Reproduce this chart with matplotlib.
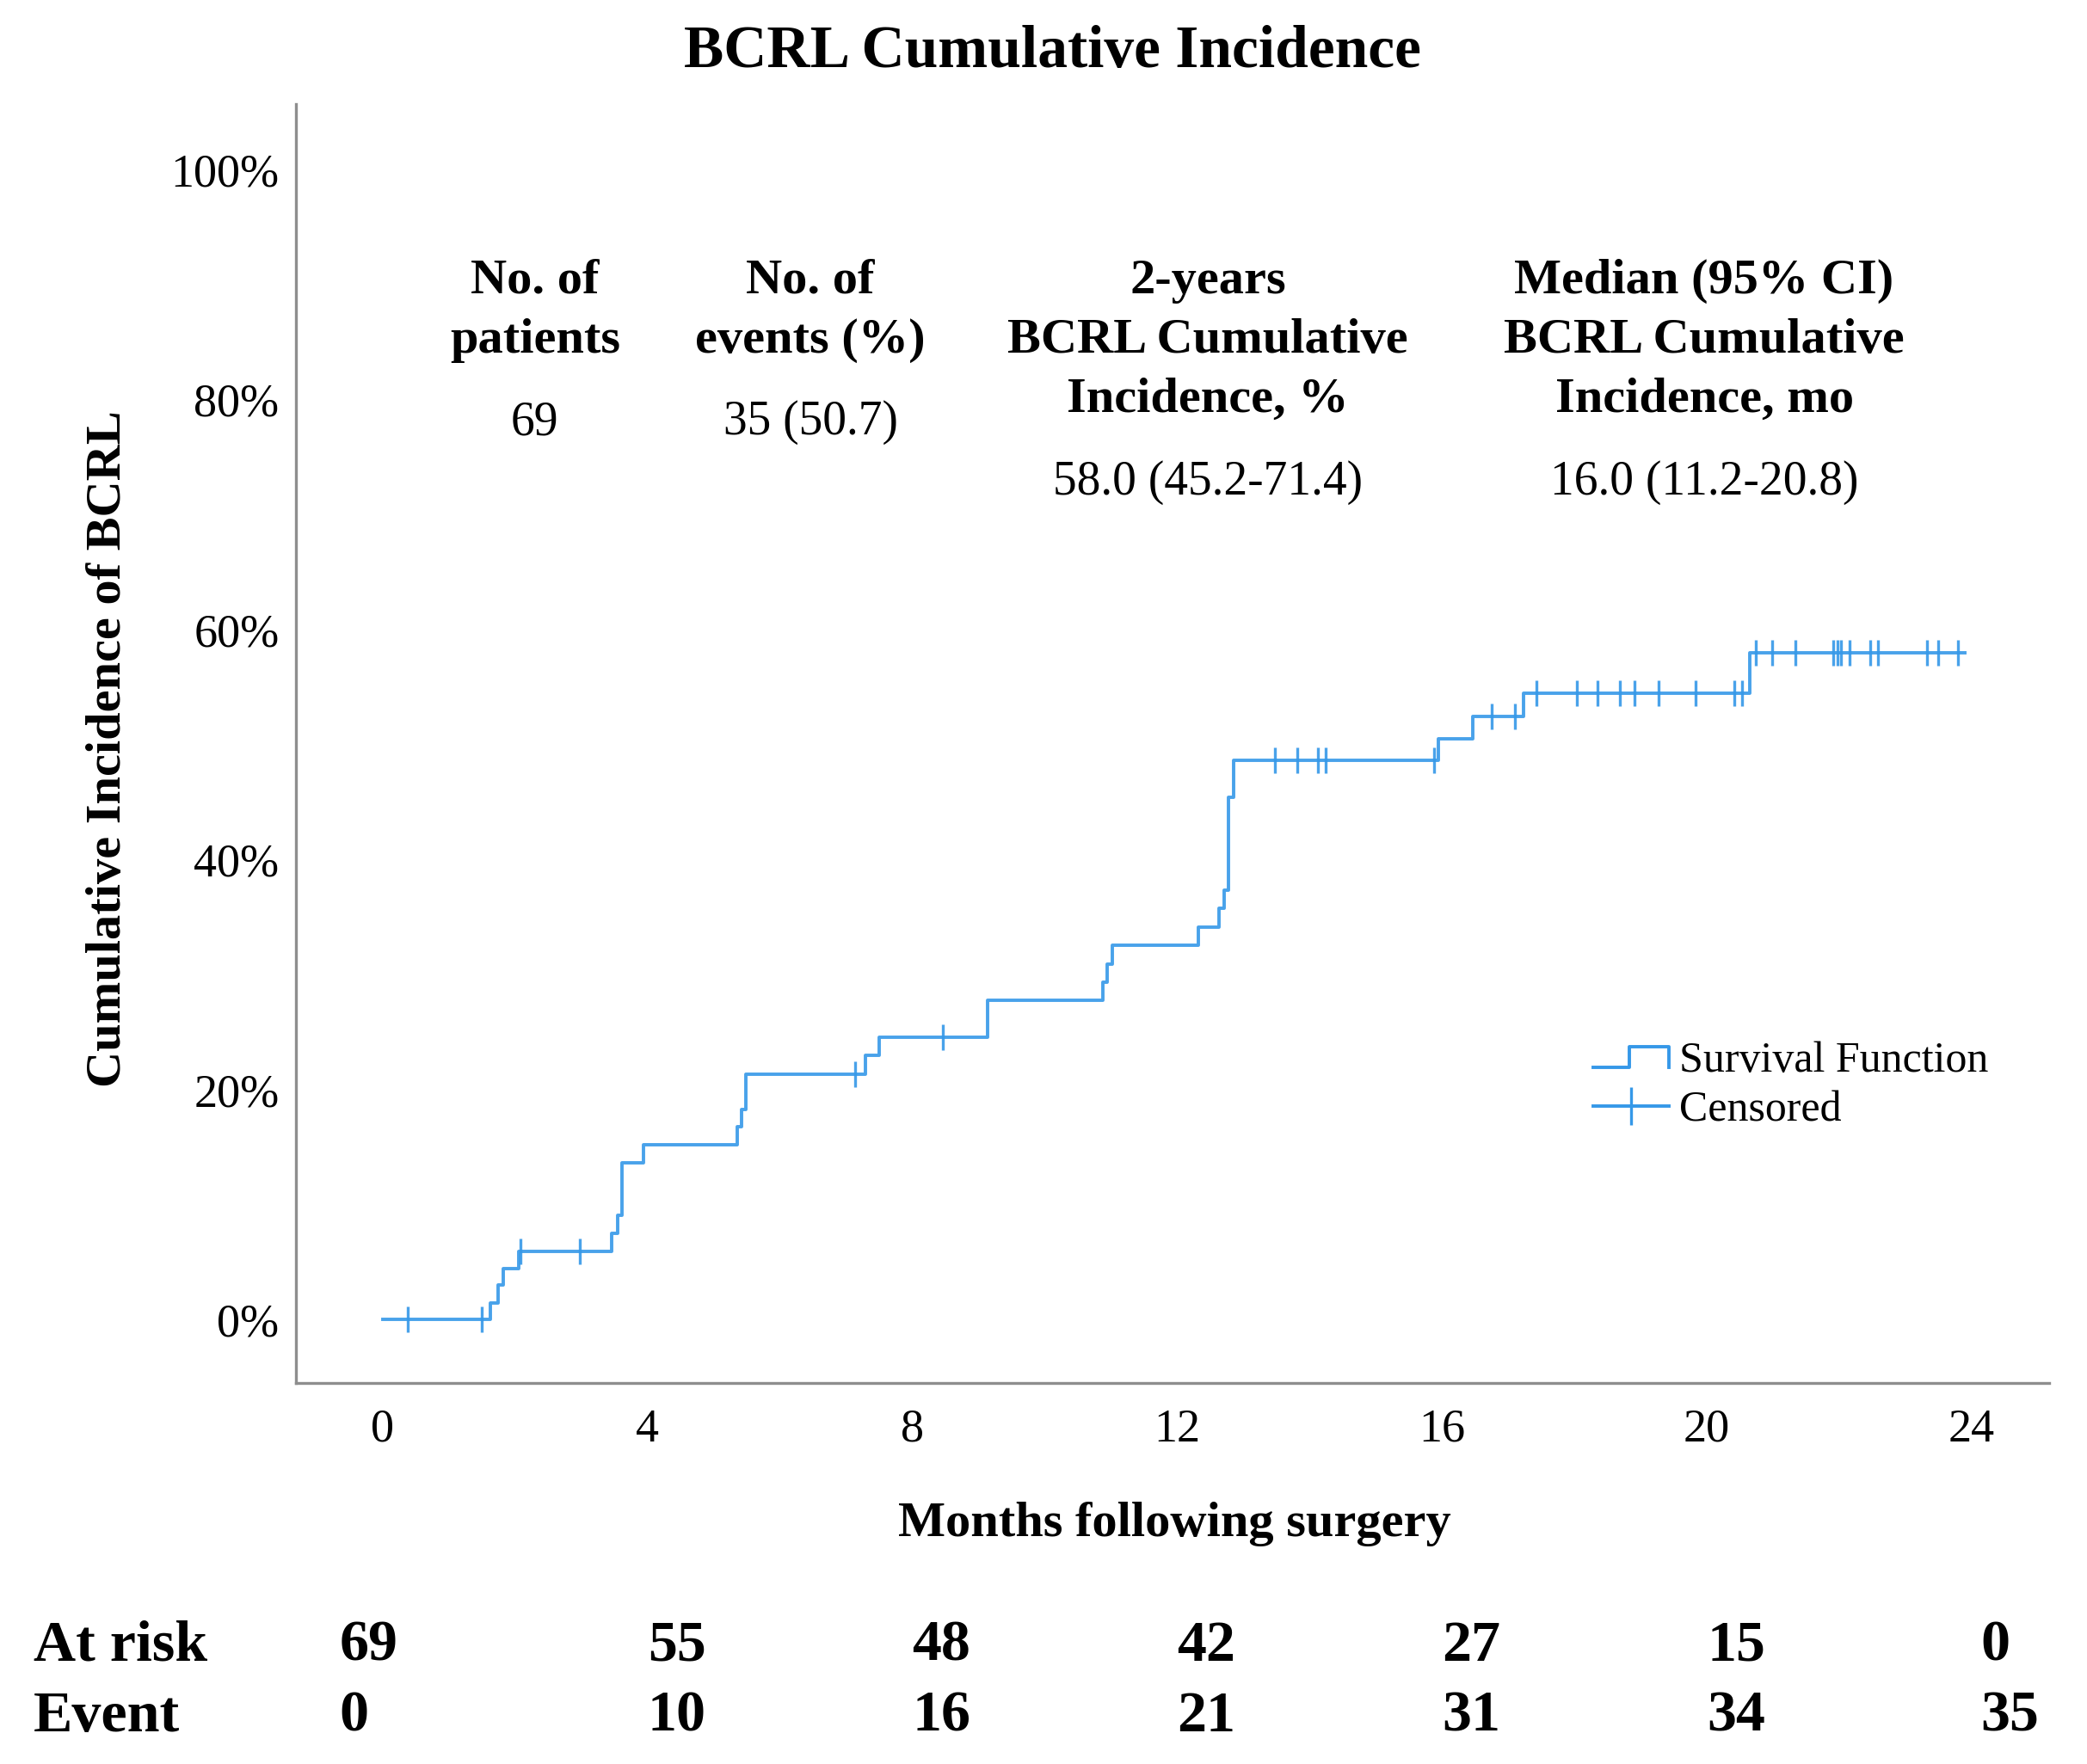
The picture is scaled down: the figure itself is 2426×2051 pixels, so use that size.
import matplotlib
matplotlib.use("Agg")

import matplotlib.pyplot as plt
import numpy as np
from matplotlib.legend_handler import HandlerBase
from matplotlib.lines import Line2D


# step curve: month of each step and the level after it (%)
STEP_MONTHS = [0.0, 1.62, 1.74, 1.82, 2.05, 3.46, 3.55, 3.62, 3.94, 5.36, 5.42, 5.48,
               7.29, 7.50, 9.13, 10.88, 10.94, 11.02, 12.32, 12.63, 12.71, 12.78, 12.85,
               15.95, 16.47, 17.23, 20.65, 23.90]
CUM_INC = [0.0, 1.49, 2.99, 4.48, 5.97, 7.51, 9.05, 13.68, 15.22, 16.76, 18.30, 21.38,
           22.96, 24.53, 27.74, 29.35, 30.95, 32.56, 34.16, 35.77, 37.38, 45.40, 48.62,
           50.52, 52.42, 54.49, 57.99, 57.99]

CENSORED = [0.38, 1.50, 2.08, 2.98, 7.13, 8.46, 13.48, 13.81, 14.13, 14.24, 15.88,
            16.75, 17.10, 17.43, 18.04, 18.35, 18.68, 18.91, 19.27, 19.83, 20.41, 20.53,
            20.74, 20.98, 21.34, 21.91, 21.97, 22.03, 22.15, 22.47, 22.58, 23.33, 23.49,
            23.79]

X_TICKS = [0, 4, 8, 12, 16, 20, 24]
Y_TICKS = [0, 20, 40, 60, 80, 100]
AT_RISK = [69, 55, 48, 42, 27, 15, 0]
EVENTS = [0, 10, 16, 21, 31, 34, 35]

HEADERS = [
    ["No. of", "patients"],
    ["No. of", "events (%)"],
    ["2-years", "BCRL Cumulative", "Incidence, %"],
    ["Median (95% CI)", "BCRL Cumulative", "Incidence, mo"],
]
VALUES = ["69", "35 (50.7)", "58.0 (45.2-71.4)", "16.0 (11.2-20.8)"]

BLUE = "#3598e8"
SPINE = "#8e8e8e"
SERIF = "Liberation Serif"


class StepHandler(HandlerBase):
    def create_artists(self, legend, orig_handle, xdescent, ydescent, width, height,
                       fontsize, trans):
        x0, y0 = -xdescent, -ydescent
        xs = [x0, x0 + 0.48 * width, x0 + 0.48 * width, x0 + width, x0 + width]
        ys = [y0 + 0.15 * height, y0 + 0.15 * height, y0 + 0.85 * height,
              y0 + 0.85 * height, y0 + 0.15 * height]
        line = Line2D(xs, ys, color=orig_handle.get_color(), lw=orig_handle.get_linewidth(),
                      transform=trans)
        return [line]


plt.rcParams["font.family"] = SERIF

fig = plt.figure(figsize=(24.26, 20.51), dpi=100)
ax = fig.add_axes([0.1418, 0.2160, 0.9819 - 0.1418, 0.941 - 0.2160])

months = np.array(STEP_MONTHS)
levels = np.array(CUM_INC)
ax.step(months, levels, where="post", color=BLUE, lw=2.8, alpha=0.9)

cens = np.array(CENSORED)
idx = np.searchsorted(months, cens, side="right") - 1
ax.plot(cens, levels[idx], ls="none", marker="|", ms=21, mew=2.4, color=BLUE, alpha=0.9)

ax.set_xlim(-1.31, 25.17)
ax.set_ylim(-5.5, 105.7)
ax.set_xticks(X_TICKS)
ax.set_yticks(Y_TICKS)
ax.set_yticklabels([f"{v}%" for v in Y_TICKS])
ax.tick_params(length=0, labelsize=39)
ax.tick_params(axis="y", pad=14)
ax.tick_params(axis="x", pad=21)

for side in ["top", "right"]:
    ax.spines[side].set_visible(False)
for side in ["left", "bottom"]:
    ax.spines[side].set_color(SPINE)
    ax.spines[side].set_linewidth(2.4)

ax.set_xlabel("Months following surgery", fontsize=42, fontweight="bold", va="center")
ax.xaxis.set_label_coords(0.5010, -0.1103)
ax.set_ylabel("Cumulative Incidence of BCRL", fontsize=42, fontweight="bold", va="center")
ax.yaxis.set_label_coords(-0.1070, 0.4956)

fig.text(0.5045, 0.9705, "BCRL Cumulative Incidence", fontsize=50, fontweight="bold",
         ha="center", va="center")

# summary block inside the plot
col_x = [2.30, 6.46, 12.46, 19.96]
row_y = [90.3, 85.1, 80.0]
value_y = {2: 78.0, 3: 72.8}
for cx, lines, val in zip(col_x, HEADERS, VALUES):
    for ry, line in zip(row_y, lines):
        ax.text(cx, ry, line, fontsize=42, fontweight="bold", ha="center", va="center")
    ax.text(cx, value_y[len(lines)], val, fontsize=40, ha="center", va="center")

# number at risk table
trans = ax.get_xaxis_transform()
col_shift = [-0.65, 0, 0, 0, 0, 0, 0.13]
for m, sh, r, e in zip(X_TICKS, col_shift, AT_RISK, EVENTS):
    ax.text(m + sh, -0.2058, str(r), transform=trans, fontsize=49, fontweight="bold",
            ha="left", va="center", clip_on=False)
    ax.text(m + sh, -0.2610, str(e), transform=trans, fontsize=49, fontweight="bold",
            ha="left", va="center", clip_on=False)
fig.text(0.016, 1 - 1914 / 2051, "At risk", fontsize=49, fontweight="bold", va="center")
fig.text(0.016, 1 - 1996 / 2051, "Event", fontsize=49, fontweight="bold", va="center")

step_handle = Line2D([], [], color=BLUE, lw=2.8)
cens_handle = Line2D([], [], color=BLUE, lw=2.8, marker="|", ms=31, mew=2.4)
fig.legend([step_handle, cens_handle], ["Survival Function", "Censored"],
           handler_map={step_handle: StepHandler()},
           loc="upper left", bbox_to_anchor=(0.7634, 0.4096), bbox_transform=fig.transFigure,
           frameon=False, fontsize=36, handlelength=1.75, handleheight=0.7,
           handletextpad=0.25, labelspacing=0.22, borderpad=0, borderaxespad=0)

fig.savefig("out.png", dpi=100, facecolor="white")
